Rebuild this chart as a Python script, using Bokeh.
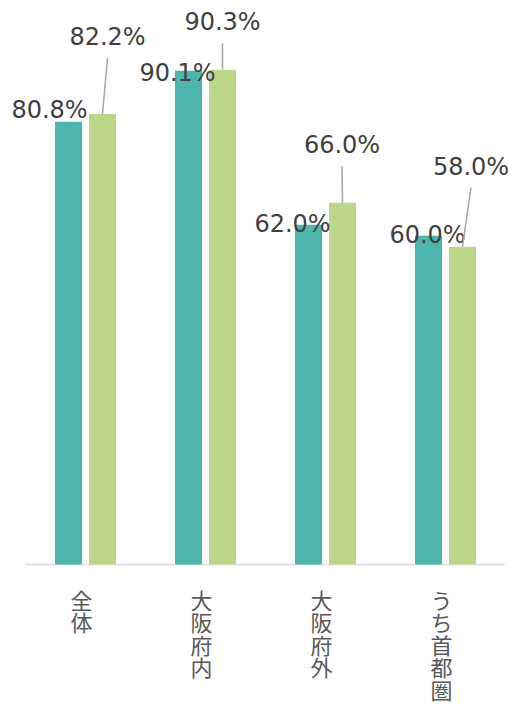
from bokeh.plotting import figure
from bokeh.models import Range1d, ColumnDataSource
from bokeh.embed import file_html
from bokeh.resources import INLINE
from bokeh.core.properties import value

# ---- data ----
categories = ["全体", "大阪府内", "大阪府外", "うち首都圏"]
series_a = [80.8, 90.1, 62.0, 60.0]
series_b = [82.2, 90.3, 66.0, 58.0]

# ---- label placement (screen px offsets, positive = right / down) ----
label_a_dx = [-19, -11, -16, -1]
label_a_dy = [-12, 2.5, -1, -0.5]      # label centre relative to bar top
label_b_dx = [5, 0, -0.5, 8.5]
label_b_dy = [-77, -47.5, -57.5, -80]  # label centre relative to bar top

W, H = 511, 704
PX_X = 120.0     # pixels per category
PX_Y = 5.48      # pixels per percent
X0 = 85.0        # canvas x of category 0
Y0 = 564.0       # canvas y of value 0

p = figure(width=W, height=H, output_backend="svg", toolbar_location=None,
           x_axis_type=None, y_axis_type=None, min_border=0,
           x_range=Range1d(-X0 / PX_X, (W - X0) / PX_X),
           y_range=Range1d(-(H - Y0) / PX_Y, Y0 / PX_Y))
p.outline_line_color = None
p.grid.visible = False
p.background_fill_color = "white"
p.border_fill_color = "white"

n = len(categories)
xs = list(range(n))
off = 17 / PX_X
bw = 27 / PX_X
xa = [x - off for x in xs]
xb = [x + off for x in xs]

# baseline
p.segment(x0=[-0.5], y0=[0], x1=[n - 0.5], y1=[0], line_color="#D9D9D9", line_width=1.5)

p.vbar(x=xa, top=series_a, bottom=0, width=bw, fill_color="#4CB6AC", line_color=None)
p.vbar(x=xb, top=series_b, bottom=0, width=bw, fill_color="#BCD68A", line_color=None)

def px2dx(d):
    return d / PX_X

def px2dy(d):
    return -d / PX_Y

fmt = lambda v: f"{v:.1f}%"

# labels series A
la = ColumnDataSource(dict(
    x=[xa[i] + px2dx(label_a_dx[i]) for i in range(n)],
    y=[series_a[i] + px2dy(label_a_dy[i]) for i in range(n)],
    t=[fmt(v) for v in series_a]))
p.text(x="x", y="y", text="t", source=la, text_align="center", text_baseline="alphabetic",
       text_font=value("DejaVu Sans"), text_font_size="24px", text_color="#404040")

# labels series B with leader lines
lbx = [xb[i] + px2dx(label_b_dx[i]) for i in range(n)]
lby = [series_b[i] + px2dy(label_b_dy[i]) for i in range(n)]
p.segment(x0=lbx, y0=[series_b[i] + px2dy(label_b_dy[i] + 21) for i in range(n)],
          x1=xb, y1=series_b, line_color="#A6A6A6", line_width=1.5)
lb = ColumnDataSource(dict(x=lbx, y=lby, t=[fmt(v) for v in series_b]))
p.text(x="x", y="y", text="t", source=lb, text_align="center", text_baseline="alphabetic",
       text_font=value("DejaVu Sans"), text_font_size="24px", text_color="#404040")

# vertical category labels, one character per line
cx, cy, ct = [], [], []
step = 22.5
first = 598 - 564
for i, cat in enumerate(categories):
    for k, ch in enumerate(cat):
        cx.append(i + px2dx(-4))
        cy.append(px2dy(first + k * step))
        ct.append(ch)
p.text(x=cx, y=cy, text=ct, text_align="center", text_baseline="middle",
       text_font=value("Noto Sans CJK JP"), text_font_size="22px", text_color="#595959")

open("out.html", "w").write(file_html(p, INLINE))
